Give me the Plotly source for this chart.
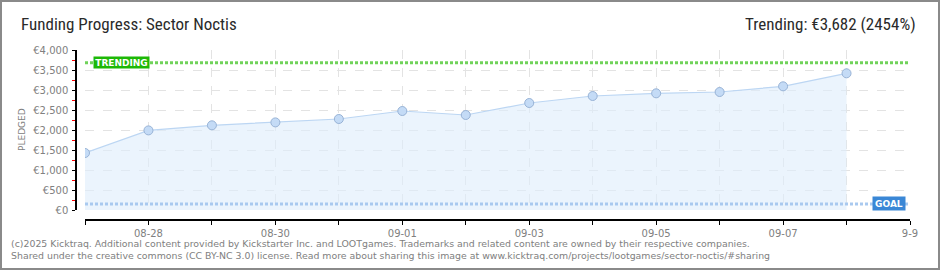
import plotly.graph_objects as go

# ---- data ----
dates = ["2025-08-27", "2025-08-28", "2025-08-29", "2025-08-30", "2025-08-31",
         "2025-09-01", "2025-09-02", "2025-09-03", "2025-09-04", "2025-09-05",
         "2025-09-06", "2025-09-07", "2025-09-08"]
pledged = [1425, 1990, 2117, 2190, 2275, 2475, 2375, 2675, 2850, 2917, 2950, 3092, 3417]
trending_value = 3682
goal_value = 150
x_tick_dates = ["2025-08-27", "2025-08-28", "2025-08-29", "2025-08-30", "2025-08-31",
                "2025-09-01", "2025-09-02", "2025-09-03", "2025-09-04", "2025-09-05",
                "2025-09-06", "2025-09-07", "2025-09-08", "2025-09-09"]
x_tick_labels = ["", "08-28", "", "08-30", "", "09-01", "", "09-03", "", "09-05",
                 "", "09-07", "", "9-9"]
y_tick_vals = [0, 500, 1000, 1500, 2000, 2500, 3000, 3500, 4000]
y_tick_labels = ["€0", "€500", "€1,000", "€1,500", "€2,000", "€2,500", "€3,000", "€3,500", "€4,000"]
x_range = ["2025-08-27", "2025-09-09"]
y_range = [0, 4000]

title_text = "Funding Progress: Sector Noctis"
trend_text = "Trending: €3,682 (2454%)"
footer1 = ("(c)2025 Kicktraq. Additional content provided by Kickstarter Inc. and LOOTgames. "
           "Trademarks and related content are owned by their respective companies.")
footer2 = ("Shared under the creative commons (CC BY-NC 3.0) license. Read more about sharing "
           "this image at www.kicktraq.com/projects/lootgames/sector-noctis/#sharing")

# ---- layout geometry (pixels) ----
W, H = 940, 270
ML, MR, MT, MB = 76, 30, 50, 50
PW, PH = W - ML - MR, H - MT - MB


def px(x):
    return (x - ML) / PW


def py(y):
    return (H - MB - y) / PH


LABEL_FONT = "DejaVu Sans, Verdana, sans-serif"
TITLE_FONT = "Liberation Sans Narrow, Arial Narrow, Roboto Condensed, sans-serif"

fig = go.Figure()
fig.add_trace(go.Scatter(
    x=dates, y=pledged, mode="lines+markers", fill="tozeroy",
    fillcolor="rgba(222,236,252,0.6)",
    line=dict(color="#bcd6f3", width=1.2),
    marker=dict(size=9, color="#c4dbf6", line=dict(color="#98b3d6", width=1)),
    showlegend=False, hoverinfo="x+y",
))
fig.add_trace(go.Scatter(
    x=[dates[0]], y=[0], xaxis="x2", yaxis="y2", mode="markers",
    marker=dict(opacity=0), showlegend=False, hoverinfo="skip",
))

grid = dict(showgrid=True, gridcolor="#e3e3e3", griddash="dash", gridwidth=1)

fig.update_layout(
    width=W, height=H,
    margin=dict(l=ML, r=MR, t=MT, b=MB),
    paper_bgcolor="white", plot_bgcolor="white",
    xaxis=dict(type="date", range=x_range, domain=[px(85), 1], anchor="y",
               dtick=86400000, tick0=x_range[0], showticklabels=False,
               showline=False, zeroline=False, fixedrange=True, **grid),
    yaxis=dict(range=y_range, domain=[py(210), 1], anchor="x", dtick=500,
               showticklabels=False, showline=False, zeroline=False, **grid),
    xaxis2=dict(type="date", overlaying="x", matches="x", anchor="free", position=0,
                domain=[px(85), 1], showgrid=False, zeroline=False,
                showline=True, linecolor="black", linewidth=1.5,
                ticks="outside", ticklen=4, tickwidth=1.2, tickcolor="black",
                tickmode="array", tickvals=x_tick_dates, ticktext=x_tick_labels,
                tickfont=dict(family=LABEL_FONT, size=10, color="#808080")),
    yaxis2=dict(overlaying="y", matches="y", anchor="free", position=0, side="left",
                showgrid=False, zeroline=False,
                showline=True, linecolor="black", linewidth=1.5,
                ticks="outside", ticklen=3, tickwidth=1.2, tickcolor="black",
                ticklabelstandoff=2,
                tickmode="array", tickvals=y_tick_vals, ticktext=y_tick_labels,
                tickfont=dict(family=LABEL_FONT, size=10, color="#808080"),
                minor=dict(ticks="outside", ticklen=3, tickwidth=1.2, tickcolor="red",
                           dtick=250, tick0=0, showgrid=False)),
    shapes=[
        dict(type="line", xref="x domain", yref="y", x0=0, x1=1,
             y0=trending_value, y1=trending_value,
             line=dict(color="#70d25a", width=3, dash="3px,2px")),
        dict(type="line", xref="x domain", yref="y", x0=0, x1=1,
             y0=goal_value, y1=goal_value,
             line=dict(color="#a9c9ef", width=3, dash="3px,2px")),
        dict(type="rect", xref="paper", yref="paper",
             x0=px(1), x1=px(939), y0=py(269), y1=py(1),
             line=dict(color="#8a8a8a", width=2), fillcolor="rgba(0,0,0,0)", layer="above"),
    ],
    annotations=[
        dict(text=title_text, xref="paper", yref="paper", x=px(19), y=py(24),
             xanchor="left", yanchor="middle", showarrow=False,
             font=dict(family=TITLE_FONT, size=17, color="#2a2a2a")),
        dict(text=trend_text, xref="paper", yref="paper", x=px(918), y=py(24),
             xanchor="right", yanchor="middle", showarrow=False,
             font=dict(family=TITLE_FONT, size=17, color="#2a2a2a")),
        dict(text="<b>TRENDING</b>", xref="x domain", yref="y", x=(93 - 85) / 825, y=trending_value,
             xanchor="left", yanchor="middle", showarrow=False,
             bgcolor="#1db806", borderpad=0, width=55, height=11,
             font=dict(family=LABEL_FONT, size=9, color="white")),
        dict(text="<b>GOAL</b>", xref="x domain", yref="y", x=(872 - 85) / 825, y=goal_value + 20,
             xanchor="left", yanchor="middle", showarrow=False,
             bgcolor="#3a87d6", borderpad=0, width=32, height=13,
             font=dict(family=LABEL_FONT, size=9, color="white")),
        dict(text="PLEDGED", xref="paper", yref="paper", x=px(22), y=py(130),
             xanchor="center", yanchor="middle", textangle=-90, showarrow=False,
             font=dict(family=LABEL_FONT, size=9, color="#808080")),
        dict(text=footer1, xref="paper", yref="paper", x=px(9), y=py(243),
             xanchor="left", yanchor="middle", showarrow=False,
             font=dict(family=LABEL_FONT, size=9.4, color="#808080")),
        dict(text=footer2, xref="paper", yref="paper", x=px(9), y=py(255),
             xanchor="left", yanchor="middle", showarrow=False,
             font=dict(family=LABEL_FONT, size=9.4, color="#808080")),
    ],
)

fig.write_html("out.html")
